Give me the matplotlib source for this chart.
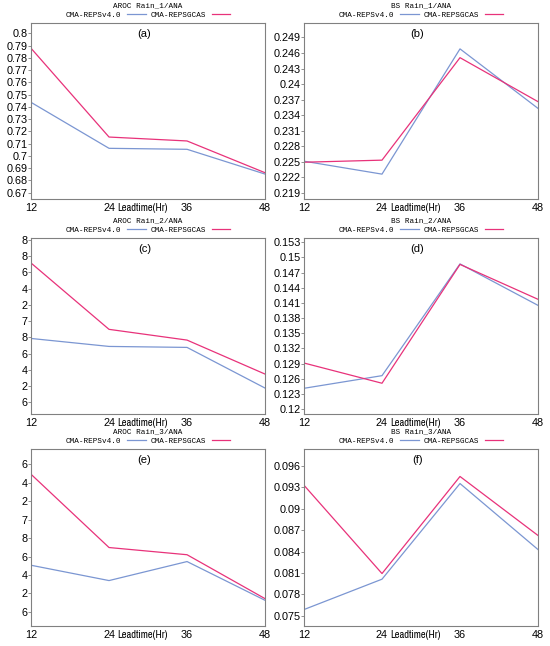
import numpy as np
import matplotlib
matplotlib.use("Agg")
import matplotlib.pyplot as plt

# lead times (hours)
leadtime = [12, 24, 36, 48]

# (a) AROC Rain_1
aroc1_v4 = [0.7437, 0.7062, 0.7054, 0.6852]
aroc1_gcas = [0.7878, 0.7154, 0.7122, 0.6863]
# (b) BS Rain_1
bs1_v4 = [0.2251, 0.2226, 0.2468, 0.2353]
bs1_gcas = [0.2249, 0.2253, 0.2451, 0.2366]
# (c) AROC Rain_2 (tick labels are clipped in the source; values in tick units)
aroc2_v4 = [3.93, 3.44, 3.38, 0.88]
aroc2_gcas = [8.57, 4.49, 3.83, 1.74]
aroc2_labels = ["6", "2", "4", "6", "8", "7", "2", "4", "6", "8", "8"]
# (d) BS Rain_2
bs2_v4 = [0.1241, 0.1266, 0.1487, 0.1405]
bs2_gcas = [0.1291, 0.1251, 0.1486, 0.1417]
# (e) AROC Rain_3 (clipped tick labels, values in tick units)
aroc3_v4 = [2.53, 1.70, 2.73, 0.63]
aroc3_gcas = [7.46, 3.49, 3.10, 0.72]
aroc3_labels = ["6", "2", "4", "6", "8", "7", "2", "4", "6"]
# (f) BS Rain_3
bs3_v4 = [0.07589, 0.08014, 0.09353, 0.08429]
bs3_gcas = [0.09329, 0.08093, 0.09452, 0.08626]

BLUE = "#7b96d2"
RED = "#e8327a"
MONO = ["Liberation Mono", "DejaVu Sans Mono"]
SANS = ["Liberation Sans", "DejaVu Sans"]
NARROW = ["Liberation Sans Narrow", "Arial Narrow", "Archivo Narrow", "DejaVu Sans"]

fig = plt.figure(figsize=(5.5, 6.46), dpi=100)

W = 0.4255
lefts = [0.0564, 0.5527]
bottoms = [0.692, 0.359, 0.031]
H = [0.2724, 0.2724, 0.274]

panels = [
    ("AROC Rain_1/ANA", "(a)", aroc1_v4, aroc1_gcas,
     np.arange(0.67, 0.8001, 0.01), None, (0.6649, 0.8084)),
    ("BS Rain_1/ANA", "(b)", bs1_v4, bs1_gcas,
     np.arange(0.219, 0.2491, 0.003), None, (0.2178, 0.2518)),
    ("AROC Rain_2/ANA", "(c)", aroc2_v4, aroc2_gcas,
     np.arange(len(aroc2_labels)), aroc2_labels, (-0.72, 10.1)),
    ("BS Rain_2/ANA", "(d)", bs2_v4, bs2_gcas,
     np.arange(0.12, 0.1531, 0.003), None, (0.119, 0.1538)),
    ("AROC Rain_3/ANA", "(e)", aroc3_v4, aroc3_gcas,
     np.arange(len(aroc3_labels)), aroc3_labels, (-0.76, 8.83)),
    ("BS Rain_3/ANA", "(f)", bs3_v4, bs3_gcas,
     np.arange(0.075, 0.0961, 0.003), None, (0.07359, 0.09837)),
]


def fmt(v):
    s = f"{v:.3f}".rstrip("0").rstrip(".")
    return s


for i, (title, tag, v4, gcas, yt, ylabels, ylim) in enumerate(panels):
    row, col = divmod(i, 2)
    ax = fig.add_axes([lefts[col], bottoms[row], W, H[row]])
    ax.plot(leadtime, v4, color=BLUE, lw=0.9, label="CMA-REPSv4.0")
    ax.plot(leadtime, gcas, color=RED, lw=0.9, label="CMA-REPSGCAS")
    ax.set_xlim(12, 48)
    ax.set_ylim(*ylim)
    ax.set_xticks(leadtime)
    ax.set_xticklabels([str(t) for t in leadtime], family=SANS, fontsize=7.8)
    ax.set_yticks(yt)
    if ylabels is None:
        ax.set_yticklabels([fmt(v) for v in yt], family=SANS, fontsize=7.8)
    else:
        ax.set_yticklabels(ylabels, family=SANS, fontsize=7.8)
    ax.tick_params(axis="x", length=0, pad=3)
    ax.tick_params(axis="y", length=2, width=0.6, pad=0.5, color="#808080")
    for sp in ax.spines.values():
        sp.set_color("#808080")
        sp.set_linewidth(0.8)
    ax.annotate("Leadtime(Hr)", xy=(29.15, 0), xycoords=("data", "axes fraction"),
                xytext=(0, -3), textcoords="offset points", ha="center", va="top",
                family=NARROW, fontsize=7.5)
    ax.text(0.485, 0.94, tag, transform=ax.transAxes, ha="center", va="center",
            family=SANS, fontsize=8)
    ax.text(0.5, 1.0 + 17 / 176, title, transform=ax.transAxes, ha="center",
            va="center", family=MONO, fontsize=5.5)
    ax.legend(loc="center", bbox_to_anchor=(0.5, 1.0 + 8 / 176), ncol=2,
              frameon=False, markerfirst=False, handlelength=2.4,
              handletextpad=0.8, columnspacing=0.6, borderpad=0, borderaxespad=0,
              prop={"family": MONO, "size": 5.5})

fig.savefig("out.png", dpi=100)
